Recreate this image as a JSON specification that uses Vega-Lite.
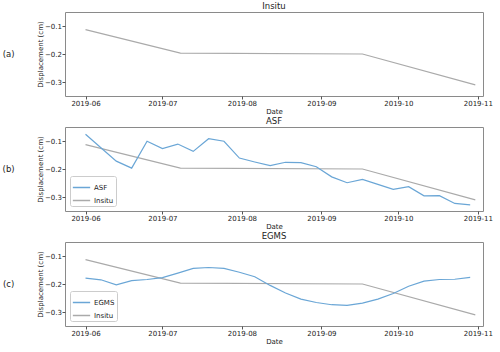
{
  "$schema": "https://vega.github.io/schema/vega-lite/v6.json",
  "background": "white",
  "padding": {"left": 2, "top": 1, "right": 5, "bottom": 0},
  "spacing": 1,
  "datasets": {
    "rows": [
      {"date": "2019-06-01", "value": -0.113, "series": "Insitu"},
      {"date": "2019-07-08", "value": -0.197, "series": "Insitu"},
      {"date": "2019-09-17", "value": -0.200, "series": "Insitu"},
      {"date": "2019-10-31", "value": -0.310, "series": "Insitu"},

      {"date": "2019-06-01", "value": -0.076, "series": "ASF"},
      {"date": "2019-06-07", "value": -0.124, "series": "ASF"},
      {"date": "2019-06-13", "value": -0.172, "series": "ASF"},
      {"date": "2019-06-19", "value": -0.197, "series": "ASF"},
      {"date": "2019-06-25", "value": -0.101, "series": "ASF"},
      {"date": "2019-07-01", "value": -0.127, "series": "ASF"},
      {"date": "2019-07-07", "value": -0.111, "series": "ASF"},
      {"date": "2019-07-13", "value": -0.137, "series": "ASF"},
      {"date": "2019-07-19", "value": -0.092, "series": "ASF"},
      {"date": "2019-07-25", "value": -0.101, "series": "ASF"},
      {"date": "2019-07-31", "value": -0.161, "series": "ASF"},
      {"date": "2019-08-06", "value": -0.175, "series": "ASF"},
      {"date": "2019-08-12", "value": -0.188, "series": "ASF"},
      {"date": "2019-08-18", "value": -0.176, "series": "ASF"},
      {"date": "2019-08-24", "value": -0.177, "series": "ASF"},
      {"date": "2019-08-30", "value": -0.192, "series": "ASF"},
      {"date": "2019-09-05", "value": -0.228, "series": "ASF"},
      {"date": "2019-09-11", "value": -0.249, "series": "ASF"},
      {"date": "2019-09-17", "value": -0.237, "series": "ASF"},
      {"date": "2019-09-23", "value": -0.255, "series": "ASF"},
      {"date": "2019-09-29", "value": -0.273, "series": "ASF"},
      {"date": "2019-10-05", "value": -0.263, "series": "ASF"},
      {"date": "2019-10-11", "value": -0.296, "series": "ASF"},
      {"date": "2019-10-17", "value": -0.295, "series": "ASF"},
      {"date": "2019-10-23", "value": -0.323, "series": "ASF"},
      {"date": "2019-10-29", "value": -0.328, "series": "ASF"},

      {"date": "2019-06-01", "value": -0.179, "series": "EGMS"},
      {"date": "2019-06-07", "value": -0.185, "series": "EGMS"},
      {"date": "2019-06-13", "value": -0.203, "series": "EGMS"},
      {"date": "2019-06-19", "value": -0.188, "series": "EGMS"},
      {"date": "2019-06-25", "value": -0.184, "series": "EGMS"},
      {"date": "2019-07-01", "value": -0.177, "series": "EGMS"},
      {"date": "2019-07-07", "value": -0.161, "series": "EGMS"},
      {"date": "2019-07-13", "value": -0.144, "series": "EGMS"},
      {"date": "2019-07-19", "value": -0.141, "series": "EGMS"},
      {"date": "2019-07-25", "value": -0.144, "series": "EGMS"},
      {"date": "2019-07-31", "value": -0.158, "series": "EGMS"},
      {"date": "2019-08-06", "value": -0.174, "series": "EGMS"},
      {"date": "2019-08-12", "value": -0.205, "series": "EGMS"},
      {"date": "2019-08-18", "value": -0.232, "series": "EGMS"},
      {"date": "2019-08-24", "value": -0.254, "series": "EGMS"},
      {"date": "2019-08-30", "value": -0.266, "series": "EGMS"},
      {"date": "2019-09-05", "value": -0.274, "series": "EGMS"},
      {"date": "2019-09-11", "value": -0.276, "series": "EGMS"},
      {"date": "2019-09-17", "value": -0.268, "series": "EGMS"},
      {"date": "2019-09-23", "value": -0.254, "series": "EGMS"},
      {"date": "2019-09-29", "value": -0.234, "series": "EGMS"},
      {"date": "2019-10-05", "value": -0.208, "series": "EGMS"},
      {"date": "2019-10-11", "value": -0.190, "series": "EGMS"},
      {"date": "2019-10-17", "value": -0.184, "series": "EGMS"},
      {"date": "2019-10-23", "value": -0.183, "series": "EGMS"},
      {"date": "2019-10-29", "value": -0.176, "series": "EGMS"}
    ],
    "labels": [
      {"panel": "a", "label": "(a)", "date": "2019-05-02", "value": -0.2},
      {"panel": "b", "label": "(b)", "date": "2019-05-02", "value": -0.2},
      {"panel": "c", "label": "(c)", "date": "2019-05-02", "value": -0.2}
    ]
  },
  "config": {
    "font": "DejaVu Sans",
    "view": {"stroke": "#8a8a8a", "strokeWidth": 1},
    "title": {"fontSize": 8.5, "fontWeight": "normal", "color": "#222", "offset": 2},
    "axis": {
      "labelFontSize": 7,
      "titleFontSize": 7,
      "titleFontWeight": "normal",
      "labelColor": "#222",
      "titleColor": "#222",
      "tickColor": "#555",
      "tickSize": 3,
      "labelPadding": 0.5,
      "titlePadding": 1,
      "domain": false,
      "grid": false
    },
    "legend": {
      "orient": "bottom-left",
      "offset": 5,
      "title": null,
      "labelFontSize": 7,
      "labelColor": "#222",
      "symbolType": "stroke",
      "symbolSize": 300,
      "symbolStrokeWidth": 1.5,
      "fillColor": "white",
      "strokeColor": "#cccccc",
      "cornerRadius": 2,
      "padding": 2,
      "rowPadding": -2,
      "labelOffset": 3
    }
  },
  "resolve": {"scale": {"color": "independent"}, "legend": {"color": "independent"}},
  "vconcat": [
    {
      "width": 418,
      "height": 84,
      "title": "Insitu",
      "layer": [
        {
          "data": {"name": "rows"},
          "transform": [{"filter": "datum.series === 'Insitu'"}],
          "mark": {"type": "line", "color": "#aaaaaa", "strokeWidth": 1.2},
          "encoding": {
            "x": {"field": "date", "type": "temporal", "title": "Date",
                  "scale": {"type": "utc", "domain": ["2019-05-24", "2019-11-03"]},
                  "axis": {"format": "%Y-%m", "tickCount": {"interval": "month", "step": 1}}},
            "y": {"field": "value", "type": "quantitative", "title": "Displacement (cm)",
                  "scale": {"domain": [-0.35, -0.05], "nice": false, "zero": false},
                  "axis": {"values": [-0.3, -0.2, -0.1], "format": ".1f"}}
          }
        },
        {
          "data": {"name": "labels"},
          "transform": [{"filter": "datum.panel === 'a'"}],
          "mark": {"type": "text", "fontSize": 8.5, "color": "#222", "align": "center", "baseline": "middle"},
          "encoding": {
            "x": {"field": "date", "type": "temporal"},
            "y": {"field": "value", "type": "quantitative"},
            "text": {"field": "label"}
          }
        }
      ]
    },
    {
      "width": 418,
      "height": 84,
      "title": "ASF",
      "layer": [
        {
          "data": {"name": "rows"},
          "transform": [{"filter": "datum.series === 'ASF' || datum.series === 'Insitu'"}],
          "mark": {"type": "line", "strokeWidth": 1.2},
          "encoding": {
            "x": {"field": "date", "type": "temporal", "title": "Date",
                  "scale": {"type": "utc", "domain": ["2019-05-24", "2019-11-03"]},
                  "axis": {"format": "%Y-%m", "tickCount": {"interval": "month", "step": 1}}},
            "y": {"field": "value", "type": "quantitative", "title": "Displacement (cm)",
                  "scale": {"domain": [-0.35, -0.05], "nice": false, "zero": false},
                  "axis": {"values": [-0.3, -0.2, -0.1], "format": ".1f"}},
            "color": {"field": "series", "type": "nominal",
                      "scale": {"domain": ["ASF", "Insitu"], "range": ["#6aa6d6", "#aaaaaa"]}}
          }
        },
        {
          "data": {"name": "labels"},
          "transform": [{"filter": "datum.panel === 'b'"}],
          "mark": {"type": "text", "fontSize": 8.5, "color": "#222", "align": "center", "baseline": "middle"},
          "encoding": {
            "x": {"field": "date", "type": "temporal"},
            "y": {"field": "value", "type": "quantitative"},
            "text": {"field": "label"}
          }
        }
      ]
    },
    {
      "width": 418,
      "height": 84,
      "title": "EGMS",
      "layer": [
        {
          "data": {"name": "rows"},
          "transform": [{"filter": "datum.series === 'EGMS' || datum.series === 'Insitu'"}],
          "mark": {"type": "line", "strokeWidth": 1.2},
          "encoding": {
            "x": {"field": "date", "type": "temporal", "title": "Date",
                  "scale": {"type": "utc", "domain": ["2019-05-24", "2019-11-03"]},
                  "axis": {"format": "%Y-%m", "tickCount": {"interval": "month", "step": 1}}},
            "y": {"field": "value", "type": "quantitative", "title": "Displacement (cm)",
                  "scale": {"domain": [-0.35, -0.05], "nice": false, "zero": false},
                  "axis": {"values": [-0.3, -0.2, -0.1], "format": ".1f"}},
            "color": {"field": "series", "type": "nominal",
                      "scale": {"domain": ["EGMS", "Insitu"], "range": ["#6aa6d6", "#aaaaaa"]}}
          }
        },
        {
          "data": {"name": "labels"},
          "transform": [{"filter": "datum.panel === 'c'"}],
          "mark": {"type": "text", "fontSize": 8.5, "color": "#222", "align": "center", "baseline": "middle"},
          "encoding": {
            "x": {"field": "date", "type": "temporal"},
            "y": {"field": "value", "type": "quantitative"},
            "text": {"field": "label"}
          }
        }
      ]
    }
  ]
}
